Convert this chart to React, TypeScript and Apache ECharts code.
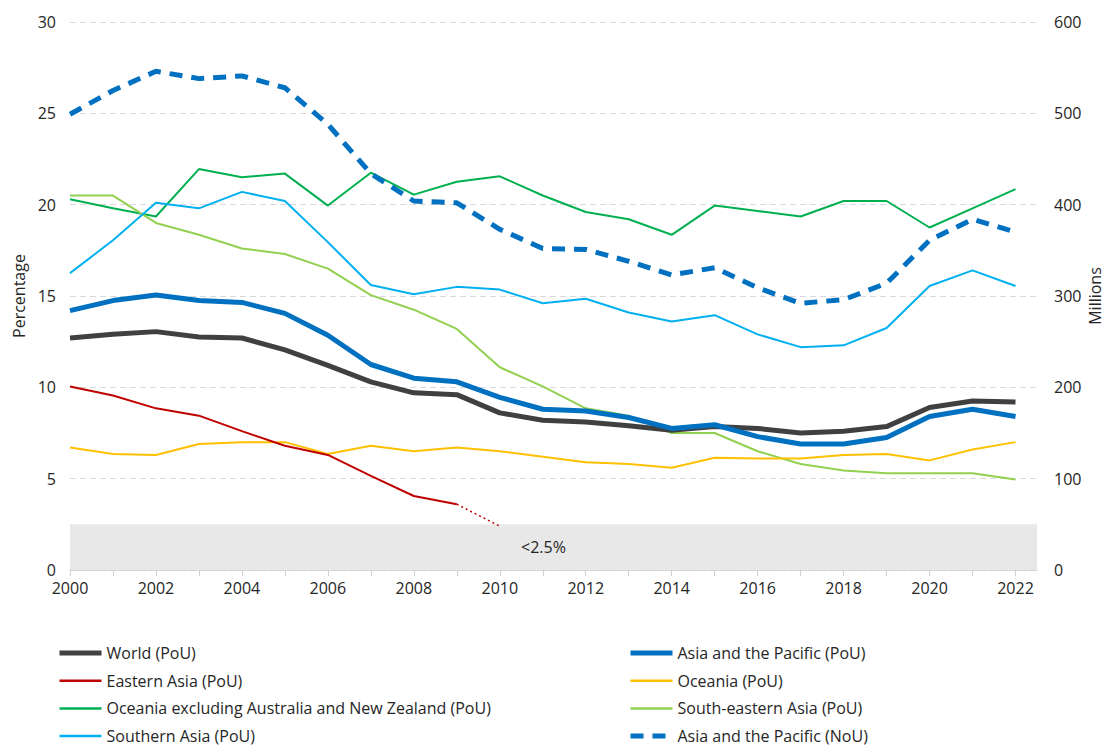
import React, { useEffect, useRef } from "react";
import * as echarts from "echarts";

const years = [2000, 2001, 2002, 2003, 2004, 2005, 2006, 2007, 2008, 2009, 2010, 2011, 2012, 2013, 2014, 2015, 2016, 2017, 2018, 2019, 2020, 2021, 2022];

const worldPoU = [12.7, 12.9, 13.05, 12.75, 12.7, 12.05, 11.2, 10.3, 9.7, 9.6, 8.6, 8.2, 8.1, 7.9, 7.65, 7.85, 7.75, 7.5, 7.6, 7.85, 8.9, 9.25, 9.2];
const asiaPacificPoU = [14.2, 14.75, 15.05, 14.75, 14.65, 14.05, 12.85, 11.25, 10.5, 10.3, 9.45, 8.8, 8.7, 8.35, 7.75, 7.95, 7.3, 6.9, 6.9, 7.25, 8.4, 8.8, 8.4];
const easternAsiaPoU = [10.05, 9.55, 8.85, 8.45, 7.6, 6.8, 6.3, 5.15, 4.05, 3.6];
const easternAsiaTail = [[2009, 3.6], [2010, 2.4]];
const oceaniaPoU = [6.7, 6.35, 6.3, 6.9, 7.0, 7.0, 6.35, 6.8, 6.5, 6.7, 6.5, 6.2, 5.9, 5.8, 5.6, 6.15, 6.1, 6.1, 6.3, 6.35, 6.0, 6.6, 7.0];
const oceaniaExclPoU = [20.3, 19.8, 19.35, 21.95, 21.5, 21.7, 19.95, 21.75, 20.55, 21.25, 21.55, 20.5, 19.6, 19.2, 18.35, 19.95, 19.65, 19.35, 20.2, 20.2, 18.75, 19.8, 20.85];
const southEasternAsiaPoU = [20.5, 20.5, 19.0, 18.35, 17.6, 17.3, 16.5, 15.05, 14.25, 13.2, 11.1, 10.05, 8.85, 8.45, 7.5, 7.5, 6.5, 5.8, 5.45, 5.3, 5.3, 5.3, 4.95];
const southernAsiaPoU = [16.25, 18.05, 20.1, 19.8, 20.7, 20.2, 17.95, 15.6, 15.1, 15.5, 15.35, 14.6, 14.85, 14.1, 13.6, 13.95, 12.9, 12.2, 12.3, 13.25, 15.55, 16.4, 15.55];
const asiaPacificNoU = [499, 525, 546, 538, 541, 528, 488, 434, 404, 402, 373, 352, 351, 338, 323, 331, 309, 292, 296, 314, 361, 384, 370];

const leftTicks = [0, 5, 10, 15, 20, 25, 30];
const rightTicks = [0, 100, 200, 300, 400, 500, 600];

const FONT = "'Open Sans', sans-serif";
const TXT = "#262626";
const FS = 16;

function pairs(vals: number[]) {
  return vals.map((v, i) => [years[i], v]);
}

export default function App() {
  const ref = useRef<HTMLDivElement>(null);
  useEffect(() => {
    if (!ref.current) return;
    const chart = echarts.init(ref.current, null, { renderer: "svg" });
    const thin = 2;
    const legendBase = {
      orient: "vertical",
      top: 645,
      padding: 0,
      itemWidth: 42,
      itemHeight: 16,
      itemGap: 11.7,
      height: 110,
      itemStyle: { opacity: 0 },
      textStyle: { fontFamily: FONT, fontSize: FS, color: TXT, lineHeight: 16 },
    };
    const option: any = {
      animation: false,
      textStyle: { fontFamily: FONT },
      grid: { left: 70, right: 71, top: 22, bottom: 176, containLabel: false, outerBoundsMode: "none" },
      legend: [
        {
          ...legendBase,
          left: 57,
          data: [
            { name: "World (PoU)", lineStyle: { width: 5 } },
            { name: "Eastern Asia (PoU)", lineStyle: { width: 2.5 } },
            { name: "Oceania excluding Australia and New Zealand (PoU)", lineStyle: { width: 2.5 } },
            { name: "Southern Asia (PoU)", lineStyle: { width: 2.5 } },
          ],
        },
        {
          ...legendBase,
          left: 628,
          data: [
            { name: "Asia and the Pacific (PoU)", lineStyle: { width: 5 } },
            { name: "Oceania (PoU)", lineStyle: { width: 2.5 } },
            { name: "South-eastern Asia (PoU)", lineStyle: { width: 2.5 } },
            { name: "Asia and the Pacific (NoU)", lineStyle: { width: 5 } },
          ],
        },
      ],
      xAxis: {
        type: "value",
        min: 2000,
        max: 2022.5,
        interval: 1,
        axisLine: { show: true, lineStyle: { color: "#d0d0d0", width: 1.5 } },
        axisTick: { show: true, length: 6, lineStyle: { color: "#d0d0d0" }, customValues: years },
        axisLabel: {
          fontFamily: FONT,
          fontSize: FS,
          color: TXT,
          margin: 10,
          customValues: years.filter((y) => y % 2 === 0),
          formatter: (v: number) => String(v),
        },
        splitLine: { show: false },
      },
      yAxis: [
        {
          type: "value",
          min: 0,
          max: 30,
          interval: 5,
          name: "Percentage",
          nameLocation: "middle",
          nameGap: 43,
          nameRotate: 90,
          nameMoveOverlap: false,
          nameTextStyle: { fontFamily: FONT, fontSize: FS, color: TXT, lineHeight: 16 },
          axisLine: { show: false },
          axisTick: { show: false },
          axisLabel: { fontFamily: FONT, fontSize: FS, color: TXT, margin: 14, customValues: leftTicks },
          splitLine: { show: true, lineStyle: { color: "#d9d9d9", type: [6, 4], width: 1 } },
        },
        {
          type: "value",
          min: 0,
          max: 600,
          interval: 100,
          position: "right",
          name: "Millions",
          nameLocation: "middle",
          nameGap: 50,
          nameRotate: 90,
          nameMoveOverlap: false,
          nameTextStyle: { fontFamily: FONT, fontSize: FS, color: TXT, lineHeight: 16 },
          axisLine: { show: false },
          axisTick: { show: false },
          axisLabel: { fontFamily: FONT, fontSize: FS, color: TXT, margin: 17, customValues: rightTicks },
          splitLine: { show: false },
        },
      ],
      series: [
        {
          name: "Oceania excluding Australia and New Zealand (PoU)",
          type: "line",
          data: pairs(oceaniaExclPoU),
          symbol: "none",
          lineStyle: { color: "#00B050", width: thin },
          itemStyle: { color: "#00B050" },
          z: 2,
        },
        {
          name: "South-eastern Asia (PoU)",
          type: "line",
          data: pairs(southEasternAsiaPoU),
          symbol: "none",
          lineStyle: { color: "#92D050", width: thin },
          itemStyle: { color: "#92D050" },
          z: 2,
        },
        {
          name: "Southern Asia (PoU)",
          type: "line",
          data: pairs(southernAsiaPoU),
          symbol: "none",
          lineStyle: { color: "#00B0F0", width: thin },
          itemStyle: { color: "#00B0F0" },
          z: 2,
        },
        {
          name: "Oceania (PoU)",
          type: "line",
          data: pairs(oceaniaPoU),
          symbol: "none",
          lineStyle: { color: "#FFC000", width: thin },
          itemStyle: { color: "#FFC000" },
          z: 2,
        },
        {
          name: "Eastern Asia (PoU)",
          type: "line",
          data: pairs(easternAsiaPoU),
          symbol: "none",
          lineStyle: { color: "#C00000", width: thin },
          itemStyle: { color: "#C00000" },
          z: 2,
        },
        {
          name: "Eastern Asia tail",
          type: "line",
          data: easternAsiaTail,
          symbol: "none",
          lineStyle: { color: "#C00000", width: 1.5, type: [2, 3] },
          itemStyle: { color: "#C00000" },
          z: 2,
        },
        {
          name: "World (PoU)",
          type: "line",
          data: pairs(worldPoU),
          symbol: "none",
          lineStyle: { color: "#404040", width: 5 },
          itemStyle: { color: "#404040" },
          z: 3,
          markArea: {
            silent: true,
            itemStyle: { color: "#e8e8e8" },
            label: { show: true, position: "inside", offset: [-10, 0], fontFamily: FONT, fontSize: FS, color: TXT },
            data: [[{ yAxis: 0, name: "<2.5%" }, { yAxis: 2.5 }]],
          },
        },
        {
          name: "Asia and the Pacific (PoU)",
          type: "line",
          data: pairs(asiaPacificPoU),
          symbol: "none",
          lineStyle: { color: "#0070C0", width: 5 },
          itemStyle: { color: "#0070C0" },
          z: 4,
        },
        {
          name: "Asia and the Pacific (NoU)",
          type: "line",
          yAxisIndex: 1,
          data: pairs(asiaPacificNoU),
          symbol: "none",
          lineStyle: { color: "#0070C0", width: 5, type: [13, 9] },
          itemStyle: { color: "#0070C0" },
          z: 4,
        },
      ],
    };
    chart.setOption(option);
    return () => chart.dispose();
  }, []);
  return <div ref={ref} style={{ position: "absolute", left: 0, top: 0, width: 1108, height: 746 }} />;
}
